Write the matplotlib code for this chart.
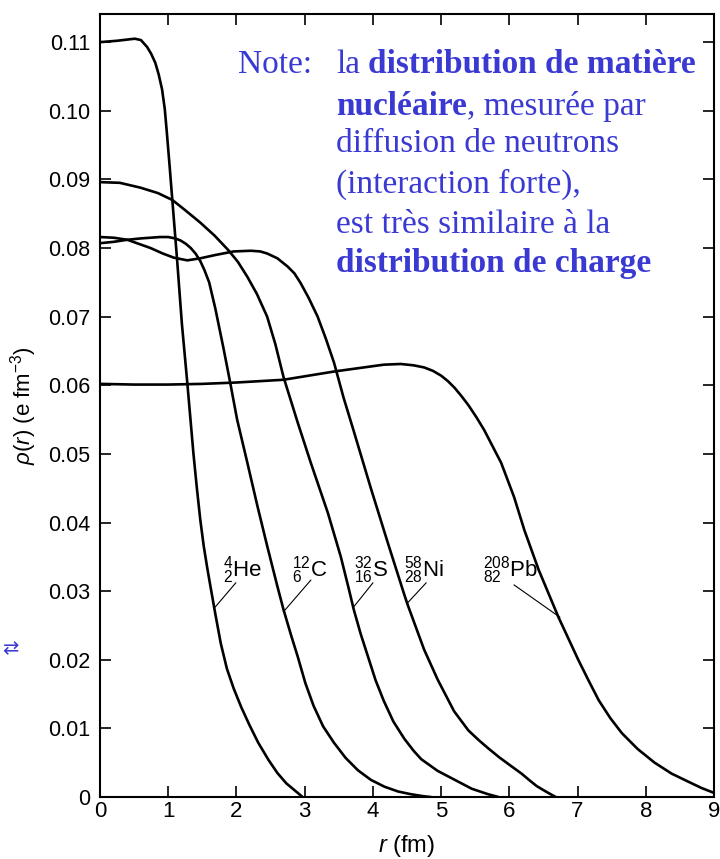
import matplotlib
matplotlib.use("Agg")
import matplotlib.pyplot as plt

# ---------------- data ----------------
he_r   = [0, 0.25, 0.51, 0.60, 0.69, 0.75, 0.81, 0.86, 0.91, 0.95, 0.98, 1.02, 1.06, 1.13,
          1.20, 1.28, 1.37, 1.42, 1.47, 1.52, 1.57, 1.61, 1.69, 1.77, 1.86, 1.96, 2.07,
          2.19, 2.32, 2.47, 2.60, 2.73, 2.85, 2.97]
he_rho = [0.1100, 0.1102, 0.1105, 0.1103, 0.1093, 0.1083, 0.1070, 0.1053, 0.1031, 0.1002,
          0.0968, 0.0920, 0.0870, 0.0783, 0.0690, 0.0603, 0.0500, 0.0450, 0.0404, 0.0366,
          0.0335, 0.0312, 0.0267, 0.0224, 0.0187, 0.0158, 0.0131, 0.0105, 0.0079, 0.0054,
          0.0035, 0.0020, 0.0010, 0.0]

c_r   = [0, 0.2, 0.4, 0.6, 0.88, 1.00, 1.10, 1.18, 1.26, 1.33, 1.40, 1.47, 1.53, 1.60, 1.69,
         1.81, 1.91, 2.01, 2.16, 2.31, 2.45, 2.60, 2.69, 2.80, 2.90, 3.01, 3.13, 3.27, 3.43,
         3.60, 3.78, 3.97, 4.17, 4.37, 4.56, 4.75, 4.85]
c_rho = [0.0807, 0.0809, 0.0812, 0.0814, 0.0816, 0.0816, 0.0814, 0.0811, 0.0806, 0.0800,
         0.0792, 0.0781, 0.0768, 0.0750, 0.0712, 0.0654, 0.0603, 0.0550, 0.0487, 0.0423,
         0.0366, 0.0307, 0.0273, 0.0236, 0.0204, 0.0166, 0.0133, 0.0103, 0.0079, 0.0057,
         0.0039, 0.0025, 0.0015, 0.0008, 0.0004, 0.0001, 0.0]

s_r   = [0, 0.29, 0.59, 0.85, 1.06, 1.25, 1.47, 1.68, 1.88, 2.02, 2.16, 2.30, 2.45, 2.57,
         2.69, 2.90, 3.09, 3.34, 3.53, 3.65, 3.72, 3.82, 3.93, 4.04, 4.16, 4.30, 4.46, 4.60,
         4.71, 4.95, 5.20, 5.45, 5.69, 5.84]
s_rho = [0.0896, 0.0895, 0.0888, 0.0880, 0.0870, 0.0855, 0.0837, 0.0818, 0.0797, 0.0780,
         0.0758, 0.0733, 0.0700, 0.0660, 0.0612, 0.0545, 0.0487, 0.0414, 0.0350, 0.0302,
         0.0273, 0.0238, 0.0204, 0.0170, 0.0140, 0.0110, 0.0085, 0.0067, 0.0055, 0.0038,
         0.0025, 0.0012, 0.0004, 0.0]

ni_r   = [0, 0.2, 0.4, 0.57, 0.74, 0.92, 1.08, 1.28, 1.47, 1.70, 1.96, 2.21, 2.35, 2.45,
          2.60, 2.75, 2.85, 2.94, 3.06, 3.19, 3.31, 3.43, 3.57, 3.72, 3.97, 4.22, 4.46,
          4.51, 4.75, 4.95, 5.19, 5.40, 5.55, 5.69, 5.85, 6.00, 6.18, 6.30, 6.40, 6.50,
          6.57, 6.68]
ni_rho = [0.0816, 0.0815, 0.0812, 0.0806, 0.0800, 0.0792, 0.0786, 0.0782, 0.0785, 0.0790,
          0.0795, 0.0796, 0.0795, 0.0792, 0.0785, 0.0773, 0.0763, 0.0749, 0.0727, 0.0700,
          0.0668, 0.0633, 0.0582, 0.0533, 0.0450, 0.0370, 0.0295, 0.0280, 0.0215, 0.0171,
          0.0125, 0.0097, 0.0083, 0.0071, 0.0058, 0.0047, 0.0034, 0.0024, 0.0016, 0.0010,
          0.0006, 0.0]

pb_r   = [0, 0.5, 1.0, 1.5, 2.0, 2.69, 3.43, 4.16, 4.41, 4.60, 4.75, 4.88, 5.00, 5.10, 5.20,
          5.30, 5.40, 5.52, 5.63, 5.88, 6.07, 6.22, 6.43, 6.72, 6.87, 7.01, 7.16, 7.31, 7.48,
          7.65, 7.88, 8.13, 8.38, 8.63, 8.82, 9.0]
pb_rho = [0.0602, 0.0601, 0.0601, 0.0602, 0.0604, 0.0608, 0.0620, 0.0630, 0.0631, 0.0629,
          0.0626, 0.0621, 0.0614, 0.0606, 0.0596, 0.0584, 0.0571, 0.0553, 0.0535, 0.0487,
          0.0437, 0.0389, 0.0331, 0.0262, 0.0230, 0.0200, 0.0170, 0.0141, 0.0115, 0.0093,
          0.0070, 0.0050, 0.0034, 0.0022, 0.0013, 0.0006]

nuclide_labels = [r'$^{4}_{2}$He', r'$^{12}_{6}$C', r'$^{32}_{16}$S', r'$^{58}_{28}$Ni', r'$^{208}_{82}$Pb']

x_ticks = list(range(0, 10))
x_ticklabels = [str(v) for v in x_ticks]
y_ticks = [0, 0.01, 0.02, 0.03, 0.04, 0.05, 0.06, 0.07, 0.08, 0.09, 0.10, 0.11]
y_ticklabels = ['0', '0.01', '0.02', '0.03', '0.04', '0.05', '0.06', '0.07', '0.08',
                '0.09', '0.10', '0.11']

# ---------------- style ----------------
plt.rcParams['font.family'] = ['Liberation Sans', 'DejaVu Sans']
plt.rcParams['mathtext.fontset'] = 'custom'
plt.rcParams['mathtext.rm'] = 'Liberation Sans'
plt.rcParams['mathtext.it'] = 'Liberation Sans:italic'
plt.rcParams['mathtext.bf'] = 'Liberation Sans:bold'

W, H = 720, 859
fig = plt.figure(figsize=(W / 100, H / 100), dpi=100)
ax = fig.add_axes([100 / W, 1 - 797 / H, 614 / W, 783 / H])

curve_kw = dict(color='black', lw=1.9, solid_capstyle='round', solid_joinstyle='round')
ax.plot(he_r, he_rho, **curve_kw)
ax.plot(c_r, c_rho, **curve_kw)
ax.plot(s_r, s_rho, **curve_kw)
ax.plot(ni_r, ni_rho, **curve_kw)
ax.plot(pb_r, pb_rho, **curve_kw)

ax.set_xlim(0, 9)
ax.set_ylim(0, 0.1141)
ax.set_xticks(x_ticks)
ax.set_xticklabels(x_ticklabels, fontsize=16)
ax.set_yticks(y_ticks)
ax.set_yticklabels(y_ticklabels, fontsize=15.5)
ax.tick_params(direction='in', top=True, right=True, length=8, width=1.2)
ax.tick_params(axis='y', pad=7)
ax.tick_params(axis='x', pad=3)
for sp in ax.spines.values():
    sp.set_linewidth(1.5)

ax.set_xlabel(r'$\it{r}$ (fm)', fontsize=17)
ax.xaxis.set_label_coords(0.5, -0.046)
ax.set_ylabel(r'$\rho(r)$ (e fm$^{-3}$)', fontsize=16)
ax.yaxis.set_label_coords(-0.100, 0.5)

# nuclide labels with leader lines
label_pos = [(1.81, 0.0321), (2.82, 0.0321), (3.72, 0.0321), (4.46, 0.0321), (5.62, 0.0321)]
leaders = [((1.99, 0.0312), (1.69, 0.0277)),
           ((3.09, 0.0316), (2.69, 0.0270)),
           ((4.00, 0.0312), (3.71, 0.0276)),
           ((4.78, 0.0312), (4.51, 0.0283)),
           ((6.07, 0.0309), (6.74, 0.0262))]
for lab, (lx, ly), (p0, p1) in zip(nuclide_labels, label_pos, leaders):
    ax.text(lx, ly, lab, fontsize=16, ha='left', va='baseline')
    ax.plot([p0[0], p1[0]], [p0[1], p1[1]], color='black', lw=0.8)

# blue note text
blue = '#3a3ad2'
serif = ['Liberation Serif', 'DejaVu Serif']
fs_note = 24
renderer = fig.canvas.get_renderer()

def width_of(txt, bold):
    t = fig.text(0, 0, txt, fontsize=fs_note, family=serif,
                 fontweight='bold' if bold else 'normal')
    w = t.get_window_extent(renderer).width
    t.remove()
    return w

space_w = width_of('a a', False) - width_of('aa', False)

def place_line(segments, x_px, base_px):
    x = x_px
    for txt, bold, gap in segments:
        x += gap * space_w
        t = fig.text(x / W, 1 - base_px / H, txt, fontsize=fs_note, family=serif,
                     fontweight='bold' if bold else 'normal', color=blue,
                     ha='left', va='baseline')
        x += t.get_window_extent(renderer).width

place_line([('Note:', False, 0)], 238, 73)
place_line([('la', False, 0), ('distribution de matière', True, 1)], 336, 73)
place_line([('nucléaire', True, 0), (', mesurée par', False, 0)], 336, 115)
place_line([('diffusion de neutrons', False, 0)], 336, 152)
place_line([('(interaction forte),', False, 0)], 336, 193)
place_line([('est très similaire à la', False, 0)], 336, 233)
place_line([('distribution de charge', True, 0)], 336, 272)

# small arrow glyph at the left margin of the slide
fig.text(2 / W, 1 - 654 / H, '⇄', fontsize=14, color=blue, family=['DejaVu Sans'],
         ha='left', va='baseline')

fig.savefig('out.png', dpi=100)
